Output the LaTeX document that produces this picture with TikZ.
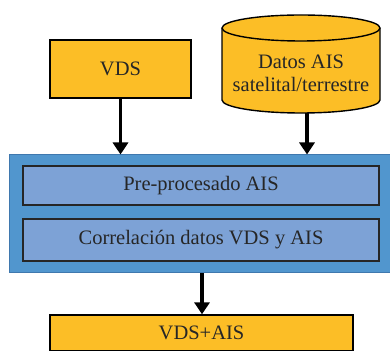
\documentclass[tikz,border=0pt]{standalone}
\usepackage{fontspec}
\setmainfont{Liberation Serif}
\usetikzlibrary{arrows.meta}
\definecolor{gold}{HTML}{FCBE26}
\definecolor{outerblue}{HTML}{5196CE}
\definecolor{outerline}{HTML}{3F78AE}
\definecolor{innerblue}{HTML}{7DA2D6}
\tikzset{
  txt/.style={font=\fontsize{20.5}{23}\selectfont, text=black!85},
  goldbox/.style={txt, draw=black, line width=1.3pt, fill=gold, inner sep=0pt},
  innerbox/.style={txt, draw=black!85, line width=1.3pt, fill=innerblue, inner sep=0pt},
  arr/.style={line width=3.2pt, -{Triangle[width=15pt,length=12pt]}}
}
\begin{document}
\begin{tikzpicture}[x=1pt,y=1pt]
\useasboundingbox (0,0) rectangle (390,350);
\clip (0,0) rectangle (390,350);
% VDS box
\node[goldbox, minimum width=141pt, minimum height=58pt] (vds) at (120.5,281) {VDS};
% cylinder
\filldraw[fill=gold, draw=black, line width=1.4pt]
  (222,322) -- (222,250) arc (180:360:79 and 13) -- (380,322) arc (0:180:79 and 13) -- cycle;
\draw[black, line width=1.4pt] (222,322) arc (180:360:79 and 13);
\node[txt, align=center] (cyl) at (301,277) {Datos AIS\\satelital/terrestre};
\coordinate (cb) at (307,237);
% outer blue box
\node[draw=outerline, line width=1pt, fill=outerblue, minimum width=386pt, minimum height=118pt, inner sep=0pt] (outer) at (202,136) {};
\node[innerbox, minimum width=356pt, minimum height=39pt] (pre) at (201,164.5) {Pre-procesado AIS};
\node[innerbox, minimum width=356pt, minimum height=42pt] (cor) at (201,110) {\raisebox{2pt}{Correlación datos VDS y AIS}};
% bottom box
\node[goldbox, minimum width=303pt, minimum height=36pt] (res) at (201.5,17) {VDS+AIS};
% arrows
\draw[arr] (vds.south) -- (vds.south |- outer.north);
\draw[arr] (cb) -- (cb |- outer.north);
\draw[arr] (outer.south) -- (outer.south |- res.north);
\end{tikzpicture}
\end{document}
